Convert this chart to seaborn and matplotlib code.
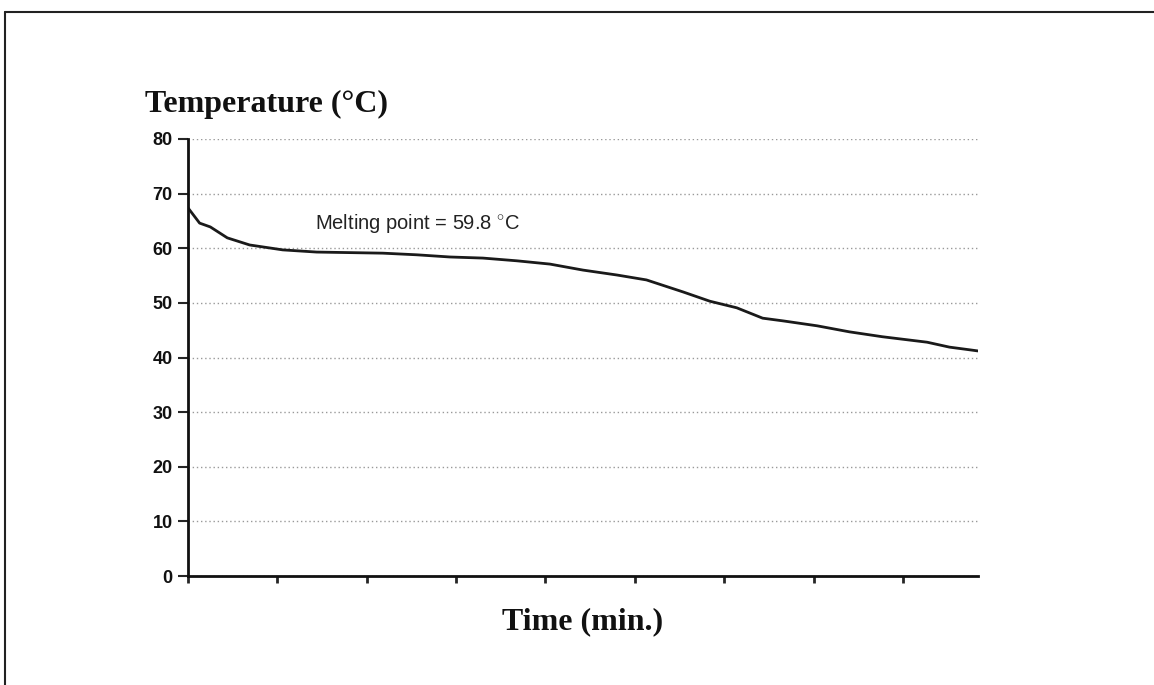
import numpy as np
import pandas as pd
import matplotlib
matplotlib.use('Agg')
import matplotlib.pyplot as plt
from matplotlib.lines import Line2D
import seaborn as sns

# time in tick units (unlabelled x axis), temperature in deg C
time_min = [0.00, 0.13, 0.25, 0.44, 0.69, 1.06, 1.44, 2.18, 2.56, 2.93, 3.30,
            3.68, 4.05, 4.42, 4.80, 5.13, 5.54, 5.84, 6.14, 6.43, 6.66, 7.04,
            7.40, 7.77, 8.27, 8.52, 8.75, 8.84]
temp_c = [67.4, 64.6, 63.9, 61.9, 60.6, 59.7, 59.3, 59.1, 58.8, 58.4, 58.2,
          57.7, 57.1, 56.0, 55.1, 54.2, 52.0, 50.3, 49.1, 47.2, 46.7, 45.8,
          44.7, 43.8, 42.8, 41.9, 41.4, 41.2]
y_ticks = [0, 10, 20, 30, 40, 50, 60, 70, 80]
x_ticks = [0, 1, 2, 3, 4, 5, 6, 7, 8]

df = pd.DataFrame({'Time': time_min, 'Temp': temp_c})

sns.set_style('white')
plt.rcParams['font.family'] = ['Liberation Sans', 'DejaVu Sans']
plt.rcParams['mathtext.fontset'] = 'custom'
plt.rcParams['mathtext.rm'] = 'Liberation Sans'

fig = plt.figure(figsize=(11.54, 6.85), dpi=100)
ax = fig.add_axes([0.1629, 0.1591, 0.6846, 0.638])

sns.lineplot(x='Time', y='Temp', data=df, ax=ax, color='#1a1a1a', linewidth=2.0)

ax.set_xlim(0, 8.84)
ax.set_ylim(0, 80)
ax.set_yticks(y_ticks)
ax.set_xticks(x_ticks)
ax.set_xticklabels([])
ax.set_yticklabels([str(v) for v in y_ticks], fontsize=13, fontweight='bold', color='#111111')
ax.tick_params(axis='y', direction='out', length=7, width=1.5, pad=4, left=True)
ax.tick_params(axis='x', direction='out', length=5, width=2, bottom=True)
ax.yaxis.grid(True, linestyle=(0, (1, 2)), color='#999999', linewidth=1)
ax.set_axisbelow(True)

for s in ['top', 'right']:
    ax.spines[s].set_visible(False)
for s in ['left', 'bottom']:
    ax.spines[s].set_color('#111111')
    ax.spines[s].set_linewidth(2)

ax.set_xlabel('')
ax.set_ylabel('')

fig.text(0.126, 0.848, 'Temperature (°C)', fontsize=23, fontweight='bold',
         family=['Liberation Serif', 'DejaVu Serif'], ha='left', va='center', color='#111111')
fig.text(0.505, 0.092, 'Time (min.)', fontsize=23, fontweight='bold',
         family=['Liberation Serif', 'DejaVu Serif'], ha='center', va='center', color='#111111')
ax.text(1.42, 64.6, r'Melting point = 59.8 $^{\circ}$C', fontsize=14.5, ha='left',
        va='center', color='#222222')

# scanned page border (left and top edges)
fig.add_artist(Line2D([5 / 1154, 5 / 1154], [0, 673 / 685], color='#222222', linewidth=1.5))
fig.add_artist(Line2D([5 / 1154, 1], [673 / 685, 673 / 685], color='#222222', linewidth=1.5))

fig.savefig('out.png', dpi=100)
